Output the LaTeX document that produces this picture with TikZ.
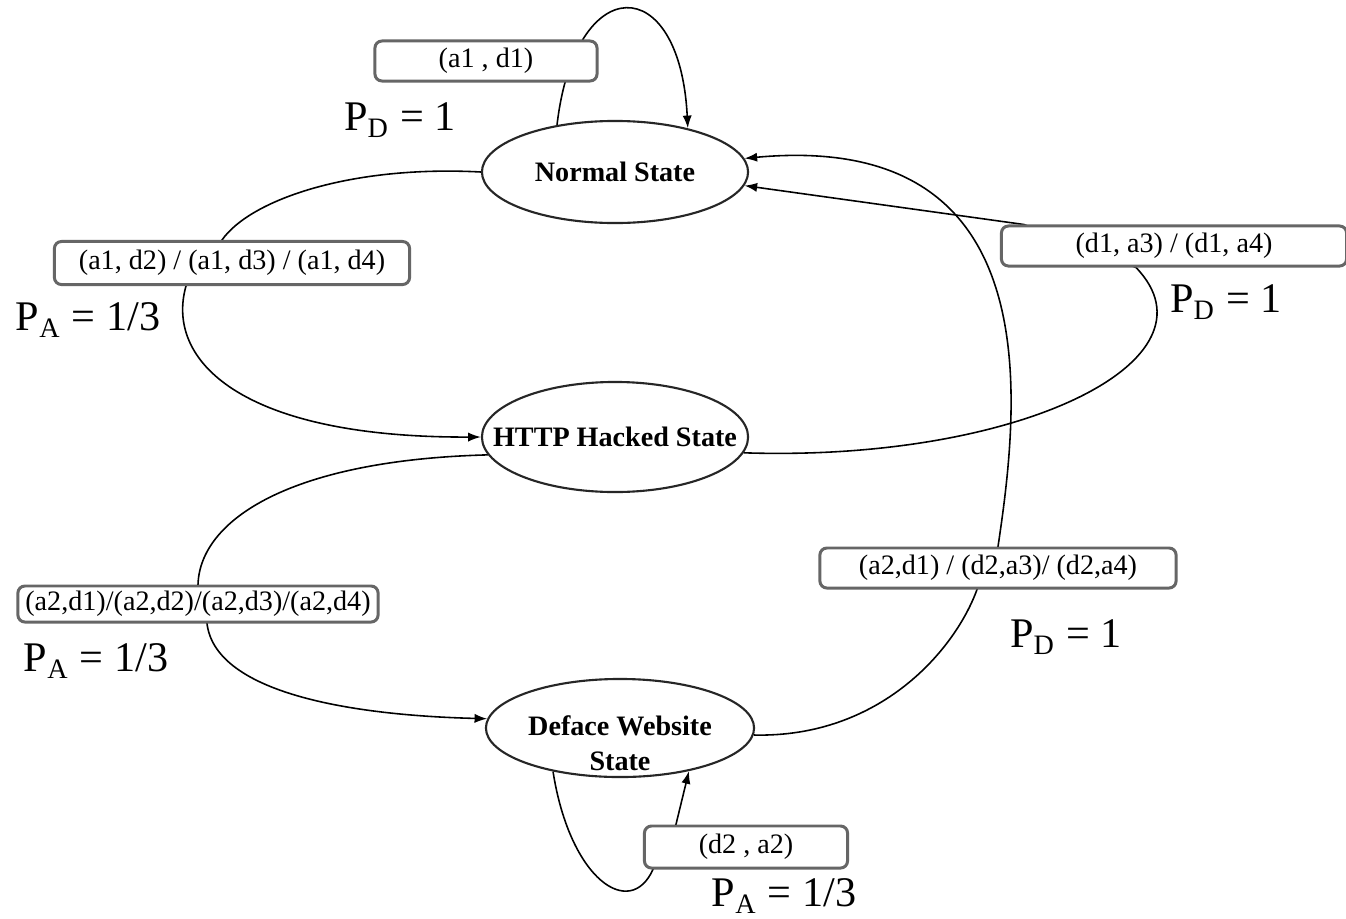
\documentclass[tikz,border=0pt]{standalone}
\usepackage{fontspec}
\setmainfont{Liberation Serif}
\usetikzlibrary{arrows.meta,calc,backgrounds,shapes.geometric}

\begin{document}
\begin{tikzpicture}[x=0.01cm, y=-0.01cm,
  state/.style={ellipse, draw=black!85, line width=0.6pt, fill=white, inner sep=0pt,
    minimum width=2.66cm, minimum height=1.02cm, align=center,
    font=\fontsize{8}{9.7}\selectfont\bfseries},
  act/.style={draw=black!60, line width=0.85pt, rounded corners=2pt, fill=white,
    inner sep=0pt, font=\fontsize{8}{9.6}\selectfont},
  prob/.style={font=\fontsize{12}{14}\selectfont},
  trans/.style={line width=0.45pt, -{Latex[length=3.6pt,width=2.6pt]}}]
  \useasboundingbox (0,0) rectangle (1346,918);
  % states
  \node[state] (normal) at (615,172) {Normal State};
  \node[state, inner xsep=-0.3cm, minimum height=1.1cm] (http) at (615,437) {HTTP Hacked State};
  \node[state, minimum width=2.68cm, minimum height=0.98cm, text height=23.9pt, text depth=0pt,
    inner ysep=-2.5pt] (deface) at (620,728) {Deface Website\\State};
  % action pairs on the transitions
  \node[act, minimum width=2.22cm, minimum height=0.40cm] (a1d1) at (486,61) {(a1 , d1)};
  \node[act, minimum width=3.55cm, minimum height=0.43cm] (a1dx) at (232,263) {(a1, d2) / (a1, d3) / (a1, d4)};
  \node[act, minimum width=3.45cm, minimum height=0.40cm] (d1ax) at (1174,246) {(d1, a3) / (d1, a4)};
  \node[act, minimum width=3.60cm, minimum height=0.36cm] (a2dx) at (198,604) {(a2,d1)/(a2,d2)/(a2,d3)/(a2,d4)};
  \node[act, minimum width=3.56cm, minimum height=0.40cm] (a2d1) at (998,568) {(a2,d1) / (d2,a3)/ (d2,a4)};
  \node[act, minimum width=2.03cm, minimum height=0.42cm] (d2a2) at (746,847) {(d2 , a2)};
  % probabilities
  \node[prob] (pd1) at (400,120) {P\textsubscript{D} = 1};
  \node[prob] (pa1) at (88,320) {P\textsubscript{A} = 1/3};
  \node[prob] (pd2) at (1226,302) {P\textsubscript{D} = 1};
  \node[prob] (pa2) at (96,661) {P\textsubscript{A} = 1/3};
  \node[prob] (pd3) at (1066,637) {P\textsubscript{D} = 1};
  \node[prob] (pa3) at (784,896) {P\textsubscript{A} = 1/3};
  % transitions, kept under the boxes
  \begin{scope}[on background layer]
    \fill[white] (0,0) rectangle (1346,918);
    \draw[trans] (normal.141) .. controls (575,-30) and (680,-30) .. (normal.31);
    \draw[trans] (normal.west) .. controls (350,165) and (250,200) .. ($(a1dx.north)+(-10,0)$)
      -- ($(a1dx.south)+(-46,0)$) .. controls (165,360) and (240,438) .. (http.west);
    \draw[trans] (http.-7) .. controls (1020,462) and (1225,360) .. ($(d1ax.south)+(-38,0)$)
      -- ($(d1ax.north west)+(24,0)$) -- (normal.-6);
    \draw[trans] (http.188) .. controls (290,460) and (200,520) .. (a2dx.north)
      -- ($(a2dx.south)+(9,0)$) .. controls (215,690) and (340,715) .. (deface.176);
    \draw[trans] (deface.-3) .. controls (880,738) and (955,650) .. ($(a2d1.south)+(-21,0)$)
      -- (a2d1.north) .. controls (1020,400) and (1050,130) .. (normal.6);
    \draw[trans] (deface.213) .. controls (570,880) and (630,920) .. ($(d2a2.south west)+(10,0)$)
      -- ($(d2a2.north west)+(33,0)$) -- (deface.-32);
  \end{scope}
\end{tikzpicture}
\end{document}
